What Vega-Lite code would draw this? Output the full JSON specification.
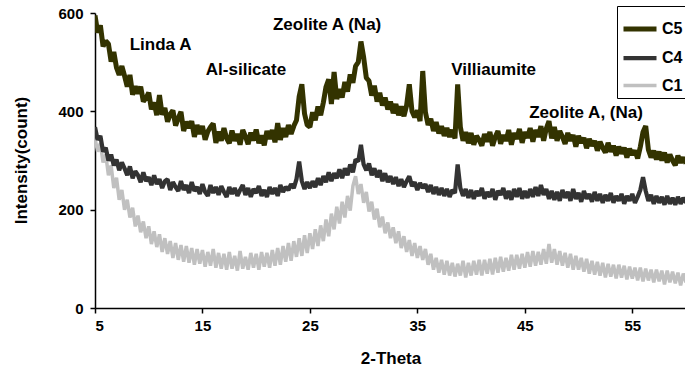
{
"$schema":"https://vega.github.io/schema/vega-lite/v6.json",
"width":591,"height":295,
"autosize":"none",
"padding":{"left":95,"top":13,"right":0,"bottom":62},
"config":{"view":{"stroke":null},"font":"Liberation Sans",
"axis":{"grid":false,"domainColor":"black","tickColor":"black","labelColor":"black","titleColor":"black","labelFont":"Liberation Sans","titleFont":"Liberation Sans","labelFontWeight":"bold","titleFontWeight":"bold","labelFontSize":15,"titleFontSize":17,"tickSize":5,"domainWidth":1.5,"tickWidth":1.5}},
"datasets":{"xrd":[
{"s":"C1","x":5,"y":345},{"s":"C1","x":5.25,"y":318},{"s":"C1","x":5.5,"y":335},{"s":"C1","x":5.75,"y":296},{"s":"C1","x":6,"y":312},{"s":"C1","x":6.25,"y":270},{"s":"C1","x":6.5,"y":290},{"s":"C1","x":6.75,"y":244},{"s":"C1","x":7,"y":265},{"s":"C1","x":7.25,"y":220},{"s":"C1","x":7.5,"y":240},{"s":"C1","x":7.75,"y":200},{"s":"C1","x":8,"y":220},{"s":"C1","x":8.25,"y":184},{"s":"C1","x":8.5,"y":204},{"s":"C1","x":8.75,"y":166},{"s":"C1","x":9,"y":188},{"s":"C1","x":9.25,"y":154},{"s":"C1","x":9.5,"y":176},{"s":"C1","x":9.75,"y":142},{"s":"C1","x":10,"y":166},{"s":"C1","x":10.25,"y":130},{"s":"C1","x":10.5,"y":156},{"s":"C1","x":10.75,"y":124},{"s":"C1","x":11,"y":150},{"s":"C1","x":11.25,"y":114},{"s":"C1","x":11.5,"y":142},{"s":"C1","x":11.75,"y":110},{"s":"C1","x":12,"y":136},{"s":"C1","x":12.25,"y":102},{"s":"C1","x":12.5,"y":132},{"s":"C1","x":12.75,"y":98},{"s":"C1","x":13,"y":128},{"s":"C1","x":13.25,"y":94},{"s":"C1","x":13.5,"y":126},{"s":"C1","x":13.75,"y":92},{"s":"C1","x":14,"y":122},{"s":"C1","x":14.25,"y":88},{"s":"C1","x":14.5,"y":120},{"s":"C1","x":14.75,"y":90},{"s":"C1","x":15,"y":118},{"s":"C1","x":15.25,"y":84},{"s":"C1","x":15.5,"y":114},{"s":"C1","x":15.75,"y":86},{"s":"C1","x":16,"y":120},{"s":"C1","x":16.25,"y":82},{"s":"C1","x":16.5,"y":112},{"s":"C1","x":16.75,"y":80},{"s":"C1","x":17,"y":110},{"s":"C1","x":17.25,"y":78},{"s":"C1","x":17.5,"y":114},{"s":"C1","x":17.75,"y":80},{"s":"C1","x":18,"y":106},{"s":"C1","x":18.25,"y":76},{"s":"C1","x":18.5,"y":116},{"s":"C1","x":18.75,"y":80},{"s":"C1","x":19,"y":104},{"s":"C1","x":19.25,"y":78},{"s":"C1","x":19.5,"y":112},{"s":"C1","x":19.75,"y":82},{"s":"C1","x":20,"y":110},{"s":"C1","x":20.25,"y":78},{"s":"C1","x":20.5,"y":114},{"s":"C1","x":20.75,"y":84},{"s":"C1","x":21,"y":112},{"s":"C1","x":21.25,"y":82},{"s":"C1","x":21.5,"y":118},{"s":"C1","x":21.75,"y":86},{"s":"C1","x":22,"y":122},{"s":"C1","x":22.25,"y":88},{"s":"C1","x":22.5,"y":126},{"s":"C1","x":22.75,"y":94},{"s":"C1","x":23,"y":132},{"s":"C1","x":23.25,"y":96},{"s":"C1","x":23.5,"y":136},{"s":"C1","x":23.75,"y":104},{"s":"C1","x":24,"y":142},{"s":"C1","x":24.25,"y":106},{"s":"C1","x":24.5,"y":148},{"s":"C1","x":24.75,"y":112},{"s":"C1","x":25,"y":152},{"s":"C1","x":25.25,"y":120},{"s":"C1","x":25.5,"y":160},{"s":"C1","x":25.75,"y":126},{"s":"C1","x":26,"y":168},{"s":"C1","x":26.25,"y":136},{"s":"C1","x":26.5,"y":180},{"s":"C1","x":26.75,"y":146},{"s":"C1","x":27,"y":192},{"s":"C1","x":27.25,"y":160},{"s":"C1","x":27.5,"y":206},{"s":"C1","x":27.75,"y":172},{"s":"C1","x":28,"y":216},{"s":"C1","x":28.25,"y":184},{"s":"C1","x":28.5,"y":228},{"s":"C1","x":28.75,"y":198},{"s":"C1","x":29,"y":248},{"s":"C1","x":29.25,"y":268},{"s":"C1","x":29.5,"y":232},{"s":"C1","x":29.75,"y":252},{"s":"C1","x":30,"y":214},{"s":"C1","x":30.25,"y":236},{"s":"C1","x":30.5,"y":196},{"s":"C1","x":30.75,"y":216},{"s":"C1","x":31,"y":180},{"s":"C1","x":31.25,"y":202},{"s":"C1","x":31.5,"y":164},{"s":"C1","x":31.75,"y":186},{"s":"C1","x":32,"y":152},{"s":"C1","x":32.25,"y":174},{"s":"C1","x":32.5,"y":142},{"s":"C1","x":32.75,"y":164},{"s":"C1","x":33,"y":132},{"s":"C1","x":33.25,"y":156},{"s":"C1","x":33.5,"y":122},{"s":"C1","x":33.75,"y":146},{"s":"C1","x":34,"y":114},{"s":"C1","x":34.25,"y":138},{"s":"C1","x":34.5,"y":106},{"s":"C1","x":34.75,"y":132},{"s":"C1","x":35,"y":102},{"s":"C1","x":35.25,"y":126},{"s":"C1","x":35.5,"y":98},{"s":"C1","x":35.75,"y":120},{"s":"C1","x":36,"y":88},{"s":"C1","x":36.25,"y":110},{"s":"C1","x":36.5,"y":78},{"s":"C1","x":36.75,"y":102},{"s":"C1","x":37,"y":72},{"s":"C1","x":37.25,"y":98},{"s":"C1","x":37.5,"y":68},{"s":"C1","x":37.75,"y":96},{"s":"C1","x":38,"y":66},{"s":"C1","x":38.25,"y":92},{"s":"C1","x":38.5,"y":64},{"s":"C1","x":38.75,"y":90},{"s":"C1","x":39,"y":66},{"s":"C1","x":39.25,"y":96},{"s":"C1","x":39.5,"y":62},{"s":"C1","x":39.75,"y":92},{"s":"C1","x":40,"y":66},{"s":"C1","x":40.25,"y":96},{"s":"C1","x":40.5,"y":68},{"s":"C1","x":40.75,"y":98},{"s":"C1","x":41,"y":66},{"s":"C1","x":41.25,"y":98},{"s":"C1","x":41.5,"y":70},{"s":"C1","x":41.75,"y":100},{"s":"C1","x":42,"y":68},{"s":"C1","x":42.25,"y":102},{"s":"C1","x":42.5,"y":72},{"s":"C1","x":42.75,"y":104},{"s":"C1","x":43,"y":74},{"s":"C1","x":43.25,"y":102},{"s":"C1","x":43.5,"y":76},{"s":"C1","x":43.75,"y":108},{"s":"C1","x":44,"y":78},{"s":"C1","x":44.25,"y":108},{"s":"C1","x":44.5,"y":80},{"s":"C1","x":44.75,"y":110},{"s":"C1","x":45,"y":82},{"s":"C1","x":45.25,"y":114},{"s":"C1","x":45.5,"y":84},{"s":"C1","x":45.75,"y":116},{"s":"C1","x":46,"y":86},{"s":"C1","x":46.25,"y":114},{"s":"C1","x":46.5,"y":88},{"s":"C1","x":46.75,"y":120},{"s":"C1","x":47,"y":90},{"s":"C1","x":47.25,"y":130},{"s":"C1","x":47.5,"y":92},{"s":"C1","x":47.75,"y":120},{"s":"C1","x":48,"y":88},{"s":"C1","x":48.25,"y":116},{"s":"C1","x":48.5,"y":86},{"s":"C1","x":48.75,"y":112},{"s":"C1","x":49,"y":82},{"s":"C1","x":49.25,"y":110},{"s":"C1","x":49.5,"y":78},{"s":"C1","x":49.75,"y":106},{"s":"C1","x":50,"y":78},{"s":"C1","x":50.25,"y":102},{"s":"C1","x":50.5,"y":74},{"s":"C1","x":50.75,"y":100},{"s":"C1","x":51,"y":70},{"s":"C1","x":51.25,"y":96},{"s":"C1","x":51.5,"y":68},{"s":"C1","x":51.75,"y":94},{"s":"C1","x":52,"y":66},{"s":"C1","x":52.25,"y":92},{"s":"C1","x":52.5,"y":62},{"s":"C1","x":52.75,"y":90},{"s":"C1","x":53,"y":64},{"s":"C1","x":53.25,"y":88},{"s":"C1","x":53.5,"y":60},{"s":"C1","x":53.75,"y":88},{"s":"C1","x":54,"y":62},{"s":"C1","x":54.25,"y":86},{"s":"C1","x":54.5,"y":58},{"s":"C1","x":54.75,"y":84},{"s":"C1","x":55,"y":60},{"s":"C1","x":55.25,"y":82},{"s":"C1","x":55.5,"y":56},{"s":"C1","x":55.75,"y":82},{"s":"C1","x":56,"y":54},{"s":"C1","x":56.25,"y":80},{"s":"C1","x":56.5,"y":56},{"s":"C1","x":56.75,"y":78},{"s":"C1","x":57,"y":52},{"s":"C1","x":57.25,"y":78},{"s":"C1","x":57.5,"y":54},{"s":"C1","x":57.75,"y":76},{"s":"C1","x":58,"y":48},{"s":"C1","x":58.25,"y":76},{"s":"C1","x":58.5,"y":52},{"s":"C1","x":58.75,"y":74},{"s":"C1","x":59,"y":50},{"s":"C1","x":59.25,"y":72},{"s":"C1","x":59.5,"y":46},{"s":"C1","x":59.75,"y":70},{"s":"C1","x":60,"y":52},
{"s":"C4","x":5,"y":368},{"s":"C4","x":5.25,"y":342},{"s":"C4","x":5.5,"y":350},{"s":"C4","x":5.75,"y":318},{"s":"C4","x":6,"y":326},{"s":"C4","x":6.25,"y":300},{"s":"C4","x":6.5,"y":312},{"s":"C4","x":6.75,"y":290},{"s":"C4","x":7,"y":302},{"s":"C4","x":7.25,"y":280},{"s":"C4","x":7.5,"y":296},{"s":"C4","x":7.75,"y":284},{"s":"C4","x":8,"y":270},{"s":"C4","x":8.25,"y":288},{"s":"C4","x":8.5,"y":264},{"s":"C4","x":8.75,"y":278},{"s":"C4","x":9,"y":270},{"s":"C4","x":9.25,"y":256},{"s":"C4","x":9.5,"y":276},{"s":"C4","x":9.75,"y":258},{"s":"C4","x":10,"y":266},{"s":"C4","x":10.25,"y":250},{"s":"C4","x":10.5,"y":270},{"s":"C4","x":10.75,"y":252},{"s":"C4","x":11,"y":262},{"s":"C4","x":11.25,"y":244},{"s":"C4","x":11.5,"y":258},{"s":"C4","x":11.75,"y":262},{"s":"C4","x":12,"y":240},{"s":"C4","x":12.25,"y":256},{"s":"C4","x":12.5,"y":246},{"s":"C4","x":12.75,"y":238},{"s":"C4","x":13,"y":258},{"s":"C4","x":13.25,"y":240},{"s":"C4","x":13.5,"y":250},{"s":"C4","x":13.75,"y":234},{"s":"C4","x":14,"y":256},{"s":"C4","x":14.25,"y":238},{"s":"C4","x":14.5,"y":246},{"s":"C4","x":14.75,"y":232},{"s":"C4","x":15,"y":252},{"s":"C4","x":15.25,"y":236},{"s":"C4","x":15.5,"y":228},{"s":"C4","x":15.75,"y":250},{"s":"C4","x":16,"y":234},{"s":"C4","x":16.25,"y":246},{"s":"C4","x":16.5,"y":230},{"s":"C4","x":16.75,"y":248},{"s":"C4","x":17,"y":236},{"s":"C4","x":17.25,"y":226},{"s":"C4","x":17.5,"y":246},{"s":"C4","x":17.75,"y":232},{"s":"C4","x":18,"y":244},{"s":"C4","x":18.25,"y":228},{"s":"C4","x":18.5,"y":240},{"s":"C4","x":18.75,"y":250},{"s":"C4","x":19,"y":230},{"s":"C4","x":19.25,"y":244},{"s":"C4","x":19.5,"y":226},{"s":"C4","x":19.75,"y":242},{"s":"C4","x":20,"y":234},{"s":"C4","x":20.25,"y":248},{"s":"C4","x":20.5,"y":228},{"s":"C4","x":20.75,"y":240},{"s":"C4","x":21,"y":226},{"s":"C4","x":21.25,"y":246},{"s":"C4","x":21.5,"y":232},{"s":"C4","x":21.75,"y":244},{"s":"C4","x":22,"y":228},{"s":"C4","x":22.25,"y":250},{"s":"C4","x":22.5,"y":236},{"s":"C4","x":22.75,"y":246},{"s":"C4","x":23,"y":240},{"s":"C4","x":23.25,"y":252},{"s":"C4","x":23.5,"y":244},{"s":"C4","x":23.75,"y":262},{"s":"C4","x":24,"y":298},{"s":"C4","x":24.25,"y":258},{"s":"C4","x":24.5,"y":242},{"s":"C4","x":24.75,"y":256},{"s":"C4","x":25,"y":244},{"s":"C4","x":25.25,"y":258},{"s":"C4","x":25.5,"y":246},{"s":"C4","x":25.75,"y":264},{"s":"C4","x":26,"y":250},{"s":"C4","x":26.25,"y":268},{"s":"C4","x":26.5,"y":256},{"s":"C4","x":26.75,"y":276},{"s":"C4","x":27,"y":258},{"s":"C4","x":27.25,"y":274},{"s":"C4","x":27.5,"y":264},{"s":"C4","x":27.75,"y":282},{"s":"C4","x":28,"y":264},{"s":"C4","x":28.25,"y":284},{"s":"C4","x":28.5,"y":270},{"s":"C4","x":28.75,"y":292},{"s":"C4","x":29,"y":276},{"s":"C4","x":29.25,"y":302},{"s":"C4","x":29.5,"y":298},{"s":"C4","x":29.75,"y":332},{"s":"C4","x":30,"y":292},{"s":"C4","x":30.25,"y":280},{"s":"C4","x":30.5,"y":294},{"s":"C4","x":30.75,"y":270},{"s":"C4","x":31,"y":284},{"s":"C4","x":31.25,"y":266},{"s":"C4","x":31.5,"y":280},{"s":"C4","x":31.75,"y":258},{"s":"C4","x":32,"y":274},{"s":"C4","x":32.25,"y":256},{"s":"C4","x":32.5,"y":268},{"s":"C4","x":32.75,"y":252},{"s":"C4","x":33,"y":266},{"s":"C4","x":33.25,"y":248},{"s":"C4","x":33.5,"y":262},{"s":"C4","x":33.75,"y":246},{"s":"C4","x":34,"y":258},{"s":"C4","x":34.25,"y":268},{"s":"C4","x":34.5,"y":248},{"s":"C4","x":34.75,"y":256},{"s":"C4","x":35,"y":240},{"s":"C4","x":35.25,"y":254},{"s":"C4","x":35.5,"y":244},{"s":"C4","x":35.75,"y":252},{"s":"C4","x":36,"y":236},{"s":"C4","x":36.25,"y":250},{"s":"C4","x":36.5,"y":232},{"s":"C4","x":36.75,"y":246},{"s":"C4","x":37,"y":230},{"s":"C4","x":37.25,"y":244},{"s":"C4","x":37.5,"y":228},{"s":"C4","x":37.75,"y":242},{"s":"C4","x":38,"y":226},{"s":"C4","x":38.25,"y":240},{"s":"C4","x":38.5,"y":234},{"s":"C4","x":38.75,"y":292},{"s":"C4","x":39,"y":244},{"s":"C4","x":39.25,"y":228},{"s":"C4","x":39.5,"y":242},{"s":"C4","x":39.75,"y":224},{"s":"C4","x":40,"y":240},{"s":"C4","x":40.25,"y":222},{"s":"C4","x":40.5,"y":238},{"s":"C4","x":40.75,"y":228},{"s":"C4","x":41,"y":244},{"s":"C4","x":41.25,"y":222},{"s":"C4","x":41.5,"y":236},{"s":"C4","x":41.75,"y":226},{"s":"C4","x":42,"y":242},{"s":"C4","x":42.25,"y":220},{"s":"C4","x":42.5,"y":238},{"s":"C4","x":42.75,"y":230},{"s":"C4","x":43,"y":244},{"s":"C4","x":43.25,"y":222},{"s":"C4","x":43.5,"y":238},{"s":"C4","x":43.75,"y":220},{"s":"C4","x":44,"y":242},{"s":"C4","x":44.25,"y":226},{"s":"C4","x":44.5,"y":244},{"s":"C4","x":44.75,"y":222},{"s":"C4","x":45,"y":238},{"s":"C4","x":45.25,"y":224},{"s":"C4","x":45.5,"y":242},{"s":"C4","x":45.75,"y":226},{"s":"C4","x":46,"y":246},{"s":"C4","x":46.25,"y":228},{"s":"C4","x":46.5,"y":250},{"s":"C4","x":46.75,"y":230},{"s":"C4","x":47,"y":242},{"s":"C4","x":47.25,"y":222},{"s":"C4","x":47.5,"y":238},{"s":"C4","x":47.75,"y":220},{"s":"C4","x":48,"y":236},{"s":"C4","x":48.25,"y":218},{"s":"C4","x":48.5,"y":240},{"s":"C4","x":48.75,"y":224},{"s":"C4","x":49,"y":236},{"s":"C4","x":49.25,"y":218},{"s":"C4","x":49.5,"y":242},{"s":"C4","x":49.75,"y":222},{"s":"C4","x":50,"y":234},{"s":"C4","x":50.25,"y":216},{"s":"C4","x":50.5,"y":238},{"s":"C4","x":50.75,"y":222},{"s":"C4","x":51,"y":232},{"s":"C4","x":51.25,"y":216},{"s":"C4","x":51.5,"y":236},{"s":"C4","x":51.75,"y":218},{"s":"C4","x":52,"y":232},{"s":"C4","x":52.25,"y":214},{"s":"C4","x":52.5,"y":230},{"s":"C4","x":52.75,"y":218},{"s":"C4","x":53,"y":234},{"s":"C4","x":53.25,"y":214},{"s":"C4","x":53.5,"y":228},{"s":"C4","x":53.75,"y":218},{"s":"C4","x":54,"y":232},{"s":"C4","x":54.25,"y":212},{"s":"C4","x":54.5,"y":228},{"s":"C4","x":54.75,"y":218},{"s":"C4","x":55,"y":232},{"s":"C4","x":55.25,"y":214},{"s":"C4","x":55.5,"y":226},{"s":"C4","x":55.75,"y":240},{"s":"C4","x":56,"y":266},{"s":"C4","x":56.25,"y":238},{"s":"C4","x":56.5,"y":218},{"s":"C4","x":56.75,"y":230},{"s":"C4","x":57,"y":212},{"s":"C4","x":57.25,"y":228},{"s":"C4","x":57.5,"y":214},{"s":"C4","x":57.75,"y":226},{"s":"C4","x":58,"y":210},{"s":"C4","x":58.25,"y":228},{"s":"C4","x":58.5,"y":212},{"s":"C4","x":58.75,"y":224},{"s":"C4","x":59,"y":210},{"s":"C4","x":59.25,"y":226},{"s":"C4","x":59.5,"y":212},{"s":"C4","x":59.75,"y":224},{"s":"C4","x":60,"y":214},
{"s":"C5","x":5,"y":595},{"s":"C5","x":5.25,"y":560},{"s":"C5","x":5.5,"y":575},{"s":"C5","x":5.75,"y":532},{"s":"C5","x":6,"y":543},{"s":"C5","x":6.25,"y":537},{"s":"C5","x":6.5,"y":501},{"s":"C5","x":6.75,"y":521},{"s":"C5","x":7,"y":489},{"s":"C5","x":7.25,"y":474},{"s":"C5","x":7.5,"y":492},{"s":"C5","x":7.75,"y":472},{"s":"C5","x":8,"y":450},{"s":"C5","x":8.25,"y":474},{"s":"C5","x":8.5,"y":434},{"s":"C5","x":8.75,"y":451},{"s":"C5","x":9,"y":436},{"s":"C5","x":9.25,"y":450},{"s":"C5","x":9.5,"y":420},{"s":"C5","x":9.75,"y":427},{"s":"C5","x":10,"y":438},{"s":"C5","x":10.25,"y":404},{"s":"C5","x":10.5,"y":418},{"s":"C5","x":10.75,"y":392},{"s":"C5","x":11,"y":433},{"s":"C5","x":11.25,"y":393},{"s":"C5","x":11.5,"y":407},{"s":"C5","x":11.75,"y":379},{"s":"C5","x":12,"y":394},{"s":"C5","x":12.25,"y":402},{"s":"C5","x":12.5,"y":371},{"s":"C5","x":12.75,"y":386},{"s":"C5","x":13,"y":399},{"s":"C5","x":13.25,"y":360},{"s":"C5","x":13.5,"y":379},{"s":"C5","x":13.75,"y":366},{"s":"C5","x":14,"y":380},{"s":"C5","x":14.25,"y":348},{"s":"C5","x":14.5,"y":372},{"s":"C5","x":14.75,"y":354},{"s":"C5","x":15,"y":370},{"s":"C5","x":15.25,"y":342},{"s":"C5","x":15.5,"y":359},{"s":"C5","x":15.75,"y":368},{"s":"C5","x":16,"y":375},{"s":"C5","x":16.25,"y":336},{"s":"C5","x":16.5,"y":359},{"s":"C5","x":16.75,"y":340},{"s":"C5","x":17,"y":366},{"s":"C5","x":17.25,"y":345},{"s":"C5","x":17.5,"y":335},{"s":"C5","x":17.75,"y":361},{"s":"C5","x":18,"y":340},{"s":"C5","x":18.25,"y":354},{"s":"C5","x":18.5,"y":332},{"s":"C5","x":18.75,"y":362},{"s":"C5","x":19,"y":349},{"s":"C5","x":19.25,"y":333},{"s":"C5","x":19.5,"y":357},{"s":"C5","x":19.75,"y":341},{"s":"C5","x":20,"y":363},{"s":"C5","x":20.25,"y":335},{"s":"C5","x":20.5,"y":351},{"s":"C5","x":20.75,"y":331},{"s":"C5","x":21,"y":360},{"s":"C5","x":21.25,"y":344},{"s":"C5","x":21.5,"y":362},{"s":"C5","x":21.75,"y":337},{"s":"C5","x":22,"y":376},{"s":"C5","x":22.25,"y":342},{"s":"C5","x":22.5,"y":366},{"s":"C5","x":22.75,"y":348},{"s":"C5","x":23,"y":372},{"s":"C5","x":23.25,"y":354},{"s":"C5","x":23.5,"y":370},{"s":"C5","x":23.75,"y":382},{"s":"C5","x":24,"y":430},{"s":"C5","x":24.25,"y":455},{"s":"C5","x":24.5,"y":395},{"s":"C5","x":24.75,"y":372},{"s":"C5","x":25,"y":368},{"s":"C5","x":25.25,"y":398},{"s":"C5","x":25.5,"y":382},{"s":"C5","x":25.75,"y":410},{"s":"C5","x":26,"y":392},{"s":"C5","x":26.25,"y":418},{"s":"C5","x":26.5,"y":450},{"s":"C5","x":26.75,"y":465},{"s":"C5","x":27,"y":415},{"s":"C5","x":27.25,"y":480},{"s":"C5","x":27.5,"y":425},{"s":"C5","x":27.75,"y":445},{"s":"C5","x":28,"y":428},{"s":"C5","x":28.25,"y":460},{"s":"C5","x":28.5,"y":440},{"s":"C5","x":28.75,"y":475},{"s":"C5","x":29,"y":458},{"s":"C5","x":29.25,"y":492},{"s":"C5","x":29.5,"y":500},{"s":"C5","x":29.75,"y":542},{"s":"C5","x":30,"y":510},{"s":"C5","x":30.25,"y":468},{"s":"C5","x":30.5,"y":462},{"s":"C5","x":30.75,"y":432},{"s":"C5","x":31,"y":452},{"s":"C5","x":31.25,"y":420},{"s":"C5","x":31.5,"y":438},{"s":"C5","x":31.75,"y":412},{"s":"C5","x":32,"y":428},{"s":"C5","x":32.25,"y":404},{"s":"C5","x":32.5,"y":420},{"s":"C5","x":32.75,"y":396},{"s":"C5","x":33,"y":415},{"s":"C5","x":33.25,"y":392},{"s":"C5","x":33.5,"y":410},{"s":"C5","x":33.75,"y":390},{"s":"C5","x":34,"y":412},{"s":"C5","x":34.25,"y":455},{"s":"C5","x":34.5,"y":400},{"s":"C5","x":34.75,"y":388},{"s":"C5","x":35,"y":402},{"s":"C5","x":35.25,"y":380},{"s":"C5","x":35.5,"y":482},{"s":"C5","x":35.75,"y":398},{"s":"C5","x":36,"y":372},{"s":"C5","x":36.25,"y":385},{"s":"C5","x":36.5,"y":360},{"s":"C5","x":36.75,"y":378},{"s":"C5","x":37,"y":355},{"s":"C5","x":37.25,"y":370},{"s":"C5","x":37.5,"y":350},{"s":"C5","x":37.75,"y":366},{"s":"C5","x":38,"y":348},{"s":"C5","x":38.25,"y":362},{"s":"C5","x":38.5,"y":345},{"s":"C5","x":38.75,"y":455},{"s":"C5","x":39,"y":368},{"s":"C5","x":39.25,"y":340},{"s":"C5","x":39.5,"y":358},{"s":"C5","x":39.75,"y":335},{"s":"C5","x":40,"y":356},{"s":"C5","x":40.25,"y":332},{"s":"C5","x":40.5,"y":350},{"s":"C5","x":40.75,"y":342},{"s":"C5","x":41,"y":330},{"s":"C5","x":41.25,"y":354},{"s":"C5","x":41.5,"y":338},{"s":"C5","x":41.75,"y":358},{"s":"C5","x":42,"y":330},{"s":"C5","x":42.25,"y":348},{"s":"C5","x":42.5,"y":360},{"s":"C5","x":42.75,"y":334},{"s":"C5","x":43,"y":352},{"s":"C5","x":43.25,"y":340},{"s":"C5","x":43.5,"y":362},{"s":"C5","x":43.75,"y":332},{"s":"C5","x":44,"y":356},{"s":"C5","x":44.25,"y":344},{"s":"C5","x":44.5,"y":364},{"s":"C5","x":44.75,"y":336},{"s":"C5","x":45,"y":358},{"s":"C5","x":45.25,"y":346},{"s":"C5","x":45.5,"y":366},{"s":"C5","x":45.75,"y":338},{"s":"C5","x":46,"y":362},{"s":"C5","x":46.25,"y":348},{"s":"C5","x":46.5,"y":370},{"s":"C5","x":46.75,"y":340},{"s":"C5","x":47,"y":365},{"s":"C5","x":47.25,"y":380},{"s":"C5","x":47.5,"y":345},{"s":"C5","x":47.75,"y":368},{"s":"C5","x":48,"y":340},{"s":"C5","x":48.25,"y":360},{"s":"C5","x":48.5,"y":348},{"s":"C5","x":48.75,"y":334},{"s":"C5","x":49,"y":356},{"s":"C5","x":49.25,"y":340},{"s":"C5","x":49.5,"y":352},{"s":"C5","x":49.75,"y":328},{"s":"C5","x":50,"y":350},{"s":"C5","x":50.25,"y":336},{"s":"C5","x":50.5,"y":346},{"s":"C5","x":50.75,"y":325},{"s":"C5","x":51,"y":344},{"s":"C5","x":51.25,"y":330},{"s":"C5","x":51.5,"y":340},{"s":"C5","x":51.75,"y":320},{"s":"C5","x":52,"y":338},{"s":"C5","x":52.25,"y":326},{"s":"C5","x":52.5,"y":316},{"s":"C5","x":52.75,"y":336},{"s":"C5","x":53,"y":318},{"s":"C5","x":53.25,"y":330},{"s":"C5","x":53.5,"y":310},{"s":"C5","x":53.75,"y":328},{"s":"C5","x":54,"y":314},{"s":"C5","x":54.25,"y":326},{"s":"C5","x":54.5,"y":306},{"s":"C5","x":54.75,"y":324},{"s":"C5","x":55,"y":312},{"s":"C5","x":55.25,"y":320},{"s":"C5","x":55.5,"y":304},{"s":"C5","x":55.75,"y":328},{"s":"C5","x":56,"y":358},{"s":"C5","x":56.25,"y":370},{"s":"C5","x":56.5,"y":322},{"s":"C5","x":56.75,"y":306},{"s":"C5","x":57,"y":320},{"s":"C5","x":57.25,"y":302},{"s":"C5","x":57.5,"y":318},{"s":"C5","x":57.75,"y":300},{"s":"C5","x":58,"y":316},{"s":"C5","x":58.25,"y":296},{"s":"C5","x":58.5,"y":312},{"s":"C5","x":58.75,"y":300},{"s":"C5","x":59,"y":290},{"s":"C5","x":59.25,"y":310},{"s":"C5","x":59.5,"y":296},{"s":"C5","x":59.75,"y":306},{"s":"C5","x":60,"y":294}
],
"labels":[
{"label":"Linda A","x":11.1,"y":535},
{"label":"Al-silicate","x":19.05,"y":484},
{"label":"Zeolite A (Na)","x":26.6,"y":576},
{"label":"Villiaumite","x":42.1,"y":484},
{"label":"Zeolite A, (Na)","x":50.7,"y":397}
]},
"layer":[
{"data":{"name":"xrd"},
"mark":{"type":"line","clip":true,"strokeJoin":"bevel"},
"encoding":{
"x":{"field":"x","type":"quantitative","scale":{"domain":[5,60],"nice":false,"zero":false},
"axis":{"values":[5,15,25,35,45,55],"title":"2-Theta","labelPadding":5,"titleY":50,"titleBaseline":"middle"}},
"y":{"field":"y","type":"quantitative","scale":{"domain":[0,600],"nice":false},
"axis":{"values":[0,200,400,600],"title":"Intensity(count)","labelPadding":7,"titleX":-74,"titleY":147,"titleBaseline":"middle","titleAlign":"center","titleAngle":-90}},
"color":{"field":"s","type":"nominal","scale":{"domain":["C5","C4","C1"],"range":["#333300","#333333","#c0c0c0"]},
"legend":{"orient":"none","legendX":522,"legendY":-7,"title":null,"strokeColor":"black","fillColor":"white","padding":4,"symbolType":"stroke","symbolSize":1089,"labelFont":"Liberation Sans","labelFontWeight":"bold","labelFontSize":16,"labelColor":"black","labelOffset":3,"rowPadding":-12}},
"strokeWidth":{"field":"s","type":"nominal","scale":{"domain":["C5","C4","C1"],"range":[5,3.5,2]}},
"order":{"field":"x","type":"quantitative"}
}},
{"data":{"name":"labels"},
"mark":{"type":"text","font":"Liberation Sans","fontWeight":"bold","fontSize":17,"color":"black","align":"center","baseline":"middle"},
"encoding":{"x":{"field":"x","type":"quantitative"},"y":{"field":"y","type":"quantitative"},"text":{"field":"label"}}}
]
}
